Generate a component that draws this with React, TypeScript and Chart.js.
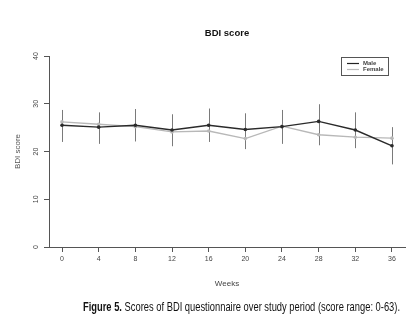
import React, { useEffect, useRef } from 'react';
import { Chart, registerables } from 'chart.js';

Chart.register(...registerables);

const weeks = [0, 4, 8, 12, 16, 20, 24, 28, 32, 36];
const male = [25.5, 25.1, 25.5, 24.5, 25.5, 24.6, 25.2, 26.3, 24.5, 21.2];
const female = [26.2, 25.7, 25.2, 24.1, 24.3, 22.7, 25.3, 23.5, 23.0, 22.8];
const errUpper = [28.7, 28.2, 28.9, 27.8, 29.0, 28.0, 28.7, 29.9, 28.2, 25.1];
const errLower = [22.0, 21.6, 22.1, 21.1, 22.0, 20.5, 21.6, 21.3, 20.7, 17.3];
const yTicks = [0, 10, 20, 30, 40];
const seriesNames = ['Male', 'Female'];
const chartTitle = 'BDI score';
const xTitle = 'Weeks';
const yTitle = 'BDI score';

const FONT = '"Liberation Sans", Arial, sans-serif';

const customPlugin = {
  id: 'rstyle',
  beforeDatasetsDraw(chart: any) {
    const { ctx, scales } = chart;
    const xs = scales.x;
    const ys = scales.y;
    ctx.save();
    ctx.strokeStyle = '#7a7a7a';
    ctx.lineWidth = 1;
    weeks.forEach((w, i) => {
      const px = Math.round(xs.getPixelForValue(w)) + 0.5;
      ctx.beginPath();
      ctx.moveTo(px, ys.getPixelForValue(errLower[i]));
      ctx.lineTo(px, ys.getPixelForValue(errUpper[i]));
      ctx.stroke();
    });
    ctx.restore();
  },
  afterDraw(chart: any) {
    const { ctx, scales, chartArea } = chart;
    const ys = scales.y;
    const cx = (chartArea.left + chartArea.right) / 2;
    const cy = (chartArea.top + chartArea.bottom) / 2;
    ctx.save();
    // title
    ctx.fillStyle = '#111';
    ctx.font = `bold 9.5px ${FONT}`;
    ctx.textAlign = 'center';
    ctx.textBaseline = 'middle';
    ctx.fillText(chartTitle, cx, 33);
    // y tick labels (rotated)
    ctx.font = `7px ${FONT}`;
    ctx.fillStyle = '#444';
    yTicks.forEach((v) => {
      ctx.save();
      ctx.translate(36, ys.getPixelForValue(v));
      ctx.rotate(-Math.PI / 2);
      ctx.fillText(String(v), 0, 0);
      ctx.restore();
    });
    // y title
    ctx.save();
    ctx.font = `8px ${FONT}`;
    ctx.fillStyle = '#555';
    ctx.translate(18, cy);
    ctx.rotate(-Math.PI / 2);
    ctx.fillText(yTitle, 0, 0);
    ctx.restore();
    // x title
    ctx.font = `8px ${FONT}`;
    ctx.fillStyle = '#444';
    ctx.fillText(xTitle, cx, 284);
    // legend
    ctx.strokeStyle = '#555';
    ctx.lineWidth = 1;
    ctx.strokeRect(341.5, 57.5, 47, 18);
    const cols = ['#222', '#bbbbbb'];
    const ly = [63.5, 69.5];
    ctx.textAlign = 'left';
    ctx.font = `bold 6px ${FONT}`;
    seriesNames.forEach((n, i) => {
      ctx.strokeStyle = cols[i];
      ctx.lineWidth = 1.2;
      ctx.beginPath();
      ctx.moveTo(347, ly[i]);
      ctx.lineTo(359, ly[i]);
      ctx.stroke();
      ctx.fillStyle = '#444';
      ctx.fillText(n, 363, ly[i]);
    });
    ctx.restore();
  },
};

export default function App() {
  const canvasRef = useRef<HTMLCanvasElement>(null);
  const capRef = useRef<HTMLDivElement>(null);

  useEffect(() => {
    document.body.style.margin = '0';
    const cap = capRef.current;
    if (cap) {
      cap.style.transform = 'none';
      const w = cap.getBoundingClientRect().width;
      const target = 317;
      if (w > 0) cap.style.transform = `scaleX(${target / w})`;
    }
    const canvas = canvasRef.current!;
    const chart = new Chart(canvas, {
      type: 'line',
      data: {
        datasets: [
          {
            label: seriesNames[0],
            data: weeks.map((w, i) => ({ x: w, y: male[i] })),
            borderColor: '#2a2a2a',
            backgroundColor: '#2a2a2a',
            borderWidth: 1.4,
            pointRadius: 1.8,
            pointBorderWidth: 0,
            tension: 0,
            order: 1,
          },
          {
            label: seriesNames[1],
            data: weeks.map((w, i) => ({ x: w, y: female[i] })),
            borderColor: '#b8b8b8',
            backgroundColor: '#b8b8b8',
            borderWidth: 1.4,
            pointRadius: 1.8,
            pointBorderWidth: 0,
            tension: 0,
            order: 2,
          },
        ],
      },
      options: {
        animation: false,
        responsive: false,
        devicePixelRatio: 1,
        layout: { padding: { left: 0, top: 56, right: 13, bottom: 0 } },
        plugins: {
          legend: { display: false },
          tooltip: { enabled: false },
          title: { display: false },
        },
        scales: {
          x: {
            type: 'linear',
            min: -1.42,
            max: 37.42,
            afterBuildTicks: (s: any) => {
              s.ticks = weeks.map((v) => ({ value: v }));
            },
            afterFit: (s: any) => {
              s.height = 80;
            },
            grid: { display: true, drawOnChartArea: false, drawTicks: true, tickLength: 5, color: '#555' },
            border: { display: true, color: '#555', width: 1 },
            ticks: {
              font: { family: FONT, size: 7 },
              color: '#444',
              padding: 3,
              maxRotation: 0,
              minRotation: 0,
              autoSkip: false,
            },
          },
          y: {
            type: 'linear',
            min: 0,
            max: 40,
            afterBuildTicks: (s: any) => {
              s.ticks = yTicks.map((v) => ({ value: v }));
            },
            afterFit: (s: any) => {
              s.width = 49;
            },
            grid: { display: true, drawOnChartArea: false, drawTicks: true, tickLength: 5, color: '#555' },
            border: { display: true, color: '#555', width: 1 },
            ticks: { display: false },
          },
        },
      } as any,
      plugins: [customPlugin],
    });
    return () => chart.destroy();
  }, []);

  return (
    <div style={{ position: 'relative', width: 418, height: 327, background: '#fff', overflow: 'hidden' }}>
      <canvas ref={canvasRef} width={418} height={327} style={{ position: 'absolute', left: 0, top: 0 }} />
      <div
        ref={capRef}
        style={{
          position: 'absolute',
          left: 83,
          top: 299,
          whiteSpace: 'nowrap',
          fontFamily: FONT,
          fontSize: 13,
          color: '#111',
          transformOrigin: 'left top',
          lineHeight: '16px',
        }}
      >
        <b>Figure 5.</b> Scores of BDI questionnaire over study period (score range: 0-63).
      </div>
    </div>
  );
}
